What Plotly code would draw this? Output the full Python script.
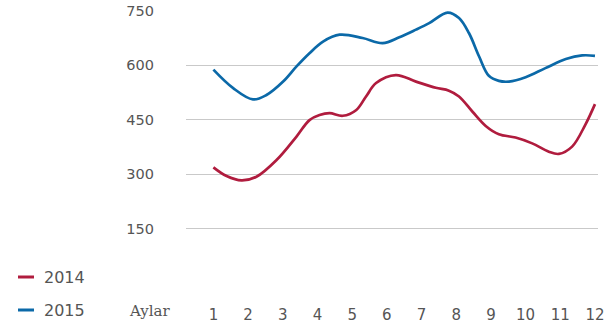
import plotly.graph_objects as go

# Month positions (fractional, along the month axis) and monthly values
months_2015 = [1.00, 1.57, 2.14, 2.53, 3.01, 3.39, 3.77, 4.16, 4.64, 5.30, 5.88,
               6.36, 6.84, 7.22, 7.75, 8.08, 8.37, 8.66, 8.94, 9.23, 9.52, 10.00,
               10.57, 11.16, 11.63, 12.00]
values_2015 = [588, 537, 506, 518, 555, 596, 633, 665, 684, 675, 661,
               677, 698, 716, 745, 730, 688, 624, 571, 557, 555, 567,
               592, 617, 627, 626]

months_2014 = [1.00, 1.38, 1.81, 2.24, 2.82, 3.39, 3.77, 4.06, 4.35, 4.73, 5.12,
               5.40, 5.69, 6.26, 6.84, 7.41, 7.79, 8.08, 8.47, 8.85, 9.23, 9.71,
               10.19, 10.67, 10.96, 11.34, 11.72, 12.00]
values_2014 = [319, 295, 283, 293, 339, 403, 449, 463, 468, 461, 477,
               514, 551, 573, 555, 538, 530, 514, 472, 433, 410, 401,
               385, 362, 356, 376, 436, 493]

month_ticks = list(range(1, 13))
value_ticks = [0, 150, 300, 450, 600, 750]
value_labels = ["", "150", "300", "450", "600", "750"]

RED = "#b01c3e"
BLUE = "#0b69a8"
GRID = "#c9c9c9"
TEXT = "#555555"
FONT = "DejaVu Sans"

TOP, BOTTOM, LEFT, RIGHT = 10, 42, 186, 6
PLOT_H = 326 - TOP - BOTTOM
PLOT_W = 604 - LEFT - RIGHT


def paper_x(px):
    return (px - LEFT) / PLOT_W


def paper_y(py):
    return (TOP + PLOT_H - py) / PLOT_H


fig = go.Figure()
fig.add_trace(go.Scatter(x=months_2014, y=values_2014, mode="lines", name="2014",
                         line=dict(color=RED, width=2.7, shape="spline", smoothing=1.0)))
fig.add_trace(go.Scatter(x=months_2015, y=values_2015, mode="lines", name="2015",
                         line=dict(color=BLUE, width=2.7, shape="spline", smoothing=1.0)))

fig.update_layout(
    template="none",
    width=604, height=326,
    margin=dict(l=LEFT, r=RIGHT, t=TOP, b=BOTTOM),
    paper_bgcolor="white", plot_bgcolor="white",
    showlegend=False,
    font=dict(family=FONT, size=14, color=TEXT),
    xaxis=dict(range=[0.21, 12.087], tickmode="array", tickvals=month_ticks,
               showgrid=False, zeroline=False, showline=False, ticks="",
               automargin=False, ticklabeloverflow="allow",
               ticklabelstandoff=20, tickfont=dict(family=FONT, size=15, color=TEXT)),
    yaxis=dict(range=[-2, 752], tickmode="array", tickvals=value_ticks,
               ticktext=value_labels, showgrid=True, gridcolor=GRID, gridwidth=1,
               zeroline=False, showline=False, ticks="", automargin=False,
               ticklabelstandoff=31,
               tickfont=dict(family=FONT, size=14.5, color=TEXT)),
)

# Axis caption for the month axis
fig.add_annotation(text="Aylar", xref="paper", yref="paper", x=paper_x(149), y=paper_y(311),
                   xanchor="center", yanchor="middle", showarrow=False,
                   font=dict(family="DejaVu Serif", size=15, color=TEXT))

# Legend keys: short coloured strokes with the series names
legend_items = [("2014", RED, 277), ("2015", BLUE, 310)]
for name, color, ypix in legend_items:
    fig.add_shape(type="line", xref="paper", yref="paper",
                  x0=paper_x(18), x1=paper_x(34), y0=paper_y(ypix), y1=paper_y(ypix),
                  line=dict(color=color, width=3))
    fig.add_annotation(text=name, xref="paper", yref="paper",
                       x=paper_x(42), y=paper_y(ypix),
                       xanchor="left", yanchor="middle", showarrow=False,
                       font=dict(family=FONT, size=16, color=TEXT))

fig.write_html("out.html")
